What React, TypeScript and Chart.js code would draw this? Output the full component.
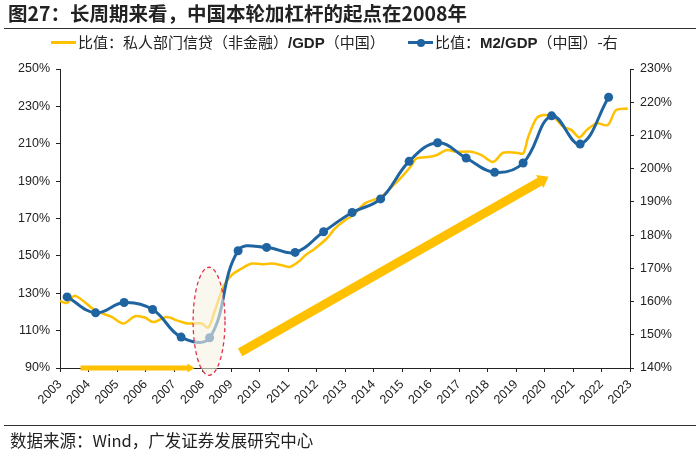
import React, { useEffect, useRef } from 'react';
import { Chart, registerables } from 'chart.js';

Chart.register(...registerables);

// ---- Data ----
const creditYears = [
  2003.0, 2003.24, 2003.53, 2004.23, 2004.81, 2005.22, 2005.63, 2005.98, 2006.27, 2006.74,
  2007.15, 2007.5, 2007.97, 2008.2, 2008.44, 2008.73, 2009.02, 2009.37, 2009.73, 2010.08,
  2010.43, 2010.78, 2011.07, 2011.36, 2011.6, 2011.95, 2012.36, 2012.65, 2013.0, 2013.29,
  2013.7, 2014.05, 2014.31, 2014.64, 2014.99, 2015.34, 2015.51, 2015.98, 2016.22, 2016.57,
  2016.92, 2017.44, 2017.79, 2018.2, 2018.55, 2019.02, 2019.25, 2019.43, 2019.72, 2019.96,
  2020.31, 2020.66, 2020.95, 2021.22, 2021.48, 2021.83, 2022.22, 2022.51, 2022.92,
];
const creditValues = [
  125.9, 124.8, 128.6, 120.9, 117.3, 113.8, 117.7, 117.0, 114.6, 117.3,
  115.2, 113.8, 113.8, 111.6, 120.9, 133.4, 139.7, 143.2, 145.9, 145.5,
  145.9, 145.0, 144.1, 146.8, 150.2, 154.0, 159.3, 164.7, 169.1, 171.8,
  178.1, 180.2, 182.0, 186.9, 192.3, 198.5, 202.2, 203.0, 203.9, 206.6,
  205.7, 205.7, 203.9, 200.3, 205.2, 205.2, 204.8, 213.7, 223.6, 225.4,
  224.4, 219.1, 217.3, 213.4, 217.3, 220.9, 220.0, 228.0, 228.9,
];

const m2Years = [
  2003.25, 2004.25, 2005.25, 2006.25, 2007.25, 2008.25, 2009.25, 2010.25, 2011.25, 2012.25,
  2013.25, 2014.25, 2015.25, 2016.25, 2017.25, 2018.25, 2019.25, 2020.25, 2021.25, 2022.25,
];
const m2Values = [
  161.4, 156.6, 159.7, 157.6, 149.3, 149.1, 175.3, 176.3, 174.8, 181.0,
  186.8, 190.9, 202.2, 207.8, 203.2, 198.9, 201.7, 215.9, 207.4, 221.5,
];

const xRange = [2003, 2023];
const leftRange = [90, 250];
const rightRange = [140, 230];

const TITLE = '图27：长周期来看，中国本轮加杠杆的起点在2008年';
const LEGEND_CREDIT = ['比值：私人部门信贷（非金融）', '/GDP', '（中国）'];
const LEGEND_M2 = ['比值：', 'M2/GDP', '（中国）-右'];
const SOURCE = '数据来源：Wind，广发证券发展研究中心';

const YELLOW = '#FFC000';
const BLUE = '#1F64A0';

// annotation shapes (in axis units)
const ellipseSpec = { year: 2008.23, value: 115, halfYears: 0.56, halfValue: 28.9 };
const arrowSpecs = [
  { from: [2003.72, 90], to: [2007.72, 90], width: 5, head: 7, headW: 9 },
  { from: [2009.32, 98.4], to: [2020.14, 192.4], width: 9, head: 10, headW: 15 },
];

function drawArrow(ctx: CanvasRenderingContext2D, x1: number, y1: number, x2: number, y2: number, w: number, headLen: number, headW: number) {
  const ang = Math.atan2(y2 - y1, x2 - x1);
  const len = Math.hypot(x2 - x1, y2 - y1);
  ctx.save();
  ctx.translate(x1, y1);
  ctx.rotate(ang);
  ctx.fillStyle = YELLOW;
  ctx.beginPath();
  ctx.moveTo(0, -w / 2);
  ctx.lineTo(len - headLen, -w / 2);
  ctx.lineTo(len - headLen, -headW / 2);
  ctx.lineTo(len, 0);
  ctx.lineTo(len - headLen, headW / 2);
  ctx.lineTo(len - headLen, w / 2);
  ctx.lineTo(0, w / 2);
  ctx.closePath();
  ctx.fill();
  ctx.restore();
}

const overlayPlugin = {
  id: 'overlay',
  afterDatasetsDraw(chart: any) {
    const { ctx } = chart;
    const xs = chart.scales.x;
    const ys = chart.scales.y;
    ctx.save();
    const cx = xs.getPixelForValue(ellipseSpec.year);
    const cy = ys.getPixelForValue(ellipseSpec.value);
    const rx = Math.abs(xs.getPixelForValue(ellipseSpec.year + ellipseSpec.halfYears) - cx);
    const ry = Math.abs(ys.getPixelForValue(ellipseSpec.value + ellipseSpec.halfValue) - cy);
    ctx.beginPath();
    ctx.ellipse(cx, cy, rx, ry, 0, 0, Math.PI * 2);
    ctx.fillStyle = 'rgba(247,242,226,0.6)';
    ctx.fill();
    ctx.setLineDash([4, 3]);
    ctx.strokeStyle = '#E0344E';
    ctx.lineWidth = 1.3;
    ctx.stroke();
    ctx.setLineDash([]);
    arrowSpecs.forEach((a) => {
      drawArrow(
        ctx,
        xs.getPixelForValue(a.from[0]),
        ys.getPixelForValue(a.from[1]),
        xs.getPixelForValue(a.to[0]),
        ys.getPixelForValue(a.to[1]),
        a.width,
        a.head,
        a.headW
      );
    });
    ctx.restore();
  },
};

const CJK = '"Noto Sans CJK SC", "Liberation Sans", Arial, sans-serif';
const LATIN = '"Liberation Sans", Arial, sans-serif';

export default function App() {
  const canvasRef = useRef<HTMLCanvasElement | null>(null);

  useEffect(() => {
    const canvas = canvasRef.current;
    if (!canvas) return;
    const tickFont = { family: LATIN, size: 12.5 };
    const chart = new Chart(canvas, {
      type: 'line',
      data: {
        datasets: [
          {
            label: 'M2/GDP',
            data: m2Years.map((x, i) => ({ x, y: m2Values[i] })),
            yAxisID: 'y1',
            borderColor: BLUE,
            backgroundColor: BLUE,
            borderWidth: 3,
            pointRadius: 4.5,
            pointBackgroundColor: BLUE,
            pointBorderWidth: 0,
            tension: 0.4,
            order: 0,
          },
          {
            label: 'credit/GDP',
            data: creditYears.map((x, i) => ({ x, y: creditValues[i] })),
            yAxisID: 'y',
            borderColor: YELLOW,
            backgroundColor: YELLOW,
            borderWidth: 2.5,
            pointRadius: 0,
            tension: 0.3,
            order: 1,
          },
        ],
      },
      options: {
        animation: false,
        responsive: false,
        devicePixelRatio: 1,
        layout: { padding: { top: 69, left: 0, right: 0, bottom: 0 } },
        plugins: { legend: { display: false }, tooltip: { enabled: false } },
        scales: {
          x: {
            type: 'linear',
            min: xRange[0],
            max: xRange[1],
            ticks: {
              stepSize: 1,
              autoSkip: false,
              maxRotation: 45,
              minRotation: 45,
              color: '#222',
              font: tickFont,
              padding: 5,
              callback: (v: any) => String(v),
            },
            grid: { drawOnChartArea: false, drawTicks: true, tickLength: 4, color: '#222' },
            border: { color: '#222', width: 1 },
            afterFit: (s: any) => { s.height = 454 - 368; },
          },
          y: {
            position: 'left',
            min: leftRange[0],
            max: leftRange[1],
            ticks: { stepSize: 20, color: '#222', font: tickFont, padding: 6, callback: (v: any) => v + '%' },
            grid: { drawOnChartArea: false, drawTicks: true, tickLength: 4, color: '#222' },
            border: { color: '#222', width: 1 },
            afterFit: (s: any) => { s.width = 60; },
          },
          y1: {
            position: 'right',
            min: rightRange[0],
            max: rightRange[1],
            ticks: { stepSize: 10, color: '#222', font: tickFont, padding: 6, callback: (v: any) => v + '%' },
            grid: { drawOnChartArea: false, drawTicks: true, tickLength: 4, color: '#222' },
            border: { color: '#222', width: 1 },
            afterFit: (s: any) => { s.width = 70; },
          },
        },
      },
      plugins: [overlayPlugin],
    });
    return () => chart.destroy();
  }, []);

  const text: React.CSSProperties = { position: 'absolute', color: '#222', whiteSpace: 'nowrap', fontFamily: CJK };

  return (
    <div style={{ position: 'fixed', left: 0, top: 0, width: 700, height: 454, background: '#fff', overflow: 'hidden' }}>
      <canvas ref={canvasRef} width={700} height={454} style={{ position: 'absolute', left: 0, top: 0, width: 700, height: 454 }} />
      <div style={{ ...text, left: 8, top: 0, fontSize: 19.5, fontWeight: 700, lineHeight: '26px' }}>{TITLE}</div>
      <div style={{ position: 'absolute', left: 4, top: 28, width: 692, height: 1, background: '#333' }} />
      {/* legend */}
      <div style={{ position: 'absolute', left: 51, top: 41, width: 25, height: 3, background: YELLOW }} />
      <div style={{ ...text, left: 78, top: 32, fontSize: 15, lineHeight: '20px' }}>
        {LEGEND_CREDIT[0]}
        <span style={{ fontFamily: LATIN, fontWeight: 700 }}>{LEGEND_CREDIT[1]}</span>
        {LEGEND_CREDIT[2]}
      </div>
      <div style={{ position: 'absolute', left: 408, top: 41, width: 25, height: 3, background: BLUE }} />
      <div style={{ position: 'absolute', left: 416.5, top: 38.5, width: 8, height: 8, borderRadius: 4, background: BLUE }} />
      <div style={{ ...text, left: 435, top: 32, fontSize: 15, lineHeight: '20px' }}>
        {LEGEND_M2[0]}
        <span style={{ fontFamily: LATIN, fontWeight: 700 }}>{LEGEND_M2[1]}</span>
        {LEGEND_M2[2]}
      </div>
      {/* footer */}
      <div style={{ position: 'absolute', left: 4, top: 425, width: 692, height: 1, background: '#333' }} />
      <div style={{ ...text, left: 10, top: 429, fontSize: 16.5, lineHeight: '22px' }}>{SOURCE}</div>
    </div>
  );
}
